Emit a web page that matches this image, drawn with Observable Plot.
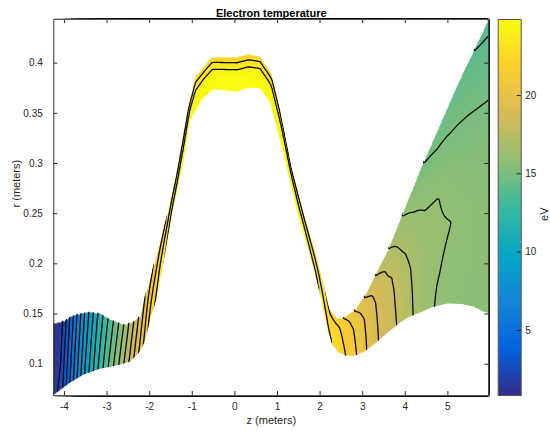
<!DOCTYPE html>
<html><head><meta charset="utf-8">
<script src="https://cdn.jsdelivr.net/npm/d3@7"></script>
<script src="https://cdn.jsdelivr.net/npm/@observablehq/plot@0.6"></script>
<style>
body{margin:0;background:#fff}
#chart{position:relative;width:550px;height:432px}
#chart svg{position:absolute;left:0;top:0}
</style>
</head><body><div id="chart"></div>
<script>
// ---- boundary of the flux tube (z in meters, r in meters) ----
const topZ = [-4.25,-4.0,-3.85,-3.7,-3.43,-3.16,-2.92,-2.61,-2.38,-2.22,-2.13,-2.01,-1.89,-1.59,-1.36,-1.09,-1.0,-0.93,-0.77,-0.54,0.05,0.32,0.59,0.87,0.905,1.06,1.34,1.65,1.88,2.08,2.23,2.4,2.55,2.82,3.05,3.29,3.6,3.91,4.38,5.24,5.96];
const topR = [0.1404,0.143,0.147,0.1494,0.1517,0.1504,0.1444,0.1394,0.1417,0.1477,0.164,0.181,0.2,0.247,0.293,0.358,0.373,0.386,0.394,0.406,0.406,0.4087,0.4067,0.389,0.383,0.356,0.296,0.247,0.214,0.181,0.154,0.146,0.146,0.154,0.168,0.1875,0.214,0.247,0.296,0.3795,0.4435];
const botZ = [-4.25,-4.05,-3.86,-3.55,-3.16,-2.77,-2.45,-2.22,-2.1,-1.95,-1.83,-1.67,-1.46,-1.2,-1.05,-0.97,-0.74,-0.5,0.05,0.32,0.59,0.79,0.83,1.14,1.22,1.49,1.72,1.96,2.19,2.31,2.45,2.62,2.82,3.05,3.29,3.6,3.87,4.07,4.42,4.62,5.0,5.32,5.6,5.83,5.96];
const botR = [0.0688,0.075,0.081,0.089,0.095,0.0982,0.102,0.112,0.122,0.148,0.164,0.2,0.25,0.3,0.34,0.348,0.3645,0.3735,0.371,0.375,0.3745,0.363,0.36,0.31,0.295,0.247,0.214,0.178,0.131,0.118,0.111,0.108,0.108,0.112,0.1195,0.131,0.1404,0.146,0.152,0.156,0.16,0.1594,0.157,0.152,0.1505];

// ---- electron temperature (eV) at z stations, across the tube (fraction 0 = inner edge, 1 = outer edge) ----
const tempZ = [-4.25,-4.1,-4.0,-3.75,-3.5,-3.25,-3.0,-2.75,-2.5,-2.25,-2.0,-1.75,-1.5,-1.2,-0.75,0,0.75,1.2,1.6,1.9,2.1,2.3,2.45,2.6,2.8,3.0,3.2,3.45,3.7,3.95,4.2,4.45,4.75,5.05,5.35,5.65,5.96];
const tempF0   = [1.6,2.3,3.5,6.5,9.3,11.7,13.8,15.8,17.9,20.1,22.4,23.8,24.4,24.7,24.8,24.85,24.8,24.7,24.6,24.2,23.6,22.9,22.5,22.0,21.25,20.4,19.55,18.75,18.2,17.7,16.95,16.35,15.9,15.75,15.65,15.6,15.55];
const tempF20  = [1.5,2.1,3.3,6.3,9.1,11.5,13.6,15.6,17.7,19.9,22.1,23.5,24.2,24.6,24.75,24.8,24.75,24.6,24.4,24.0,23.3,22.7,22.4,21.9,21.15,20.35,19.5,18.7,18.15,17.6,16.9,16.3,16.05,15.85,15.7,15.65,15.6];
const tempF40  = [1.4,1.9,3.1,6.1,8.9,11.3,13.4,15.4,17.5,19.7,21.8,23.1,23.9,24.4,24.6,24.65,24.6,24.4,24.1,23.6,23.0,22.5,22.3,21.75,21.05,20.25,19.45,18.6,18.1,17.45,16.8,16.25,16.15,16.02,15.75,15.65,15.6];
const tempF60  = [1.3,1.7,2.9,5.9,8.7,11.1,13.2,15.2,17.3,19.5,21.5,22.7,23.5,24.0,24.1,24.2,24.1,24.0,23.6,23.1,22.6,22.3,22.15,21.6,20.95,20.15,19.35,18.5,17.95,17.1,16.5,16.15,16.05,15.7,15.5,15.4,15.35];
const tempF80  = [1.2,1.5,2.7,5.7,8.5,10.9,13.0,15.0,17.1,19.3,21.1,22.2,23.0,23.2,23.2,23.2,23.2,23.2,22.9,22.6,22.3,22.05,21.95,21.4,20.6,19.75,19.05,18.3,17.4,16.5,16.0,15.7,15.4,15.15,15.0,14.9,14.8];
const tempF100 = [1.1,1.3,2.5,5.5,8.3,10.7,12.8,14.8,16.9,19.1,20.7,21.6,22.3,22.3,22.2,22.2,22.2,22.3,22.2,22.1,22.05,21.6,21.3,20.8,20.0,19.1,18.3,17.5,16.7,15.9,15.4,14.95,14.6,14.5,14.3,13.95,13.7];
const fractions = [0,0.2,0.4,0.6,0.8,1];

// ---- contour levels, ticks, labels ----
const levels = [1,2,3,4,5,6,7,8,9,10,11,12,13,14,15,16,17,18,19,20,21,22,23,24];
const xTicks = [-4,-3,-2,-1,0,1,2,3,4,5];
const yTicks = [0.1,0.15,0.2,0.25,0.3,0.35,0.4];
const cTicks = [5,10,15,20];
const xDomain = [-4.25, 5.96];
const yDomain = [0.0688, 0.4435];
const cDomain = [0.85, 24.85];
const titleText = "Electron temperature";
const xLabel = "z (meters)";
const yLabel = "r (meters)";
const cLabel = "eV";

// parula colormap
const parula = ["#352a87","#0363e1","#1485d4","#06a7c6","#38b99e","#92bf73","#d9ba56","#fcce2e","#f9fb0e"];
const parulaInterp = d3.piecewise(d3.interpolateRgb, parula);

function lerp1(xs, ys, x) {
  if (x <= xs[0]) return ys[0];
  for (let i = 1; i < xs.length; i++) {
    if (x <= xs[i]) {
      const t = (x - xs[i-1]) / (xs[i] - xs[i-1]);
      return ys[i-1] + t * (ys[i] - ys[i-1]);
    }
  }
  return ys[ys.length - 1];
}
const tempCols = [tempF0, tempF20, tempF40, tempF60, tempF80, tempF100];
function temperature(z, r, clamp) {
  const b = lerp1(botZ, botR, z), t = lerp1(topZ, topR, z);
  let s = (r - b) / (t - b);
  if (!(s >= 0 && s <= 1)) {
    if (!clamp) return NaN;
    s = Math.max(0, Math.min(1, s));
  }
  const col = tempCols.map(c => lerp1(tempZ, c, z));
  return lerp1(fractions, col, s);
}

const axisColor = "#262626";
const frameColor = "#555555";
const font = "'Liberation Sans', Arial, Helvetica, sans-serif";
const W = 550, H = 432, mL = 53.3, mR = 61.7, mT = 19, mB = 37;
const fw = W - mL - mR, fh = H - mT - mB;

const idxTop = topZ.map((d, i) => i);
const idxBot = botZ.map((d, i) => i);

const main = Plot.plot({
  width: W, height: H,
  marginLeft: mL, marginRight: mR, marginTop: mT, marginBottom: mB,
  style: {fontFamily: font, fontSize: "10px", color: axisColor, background: "white"},
  x: {domain: xDomain},
  y: {domain: yDomain},
  color: {type: "linear", domain: cDomain, interpolate: parulaInterp, clamp: true},
  marks: [
    Plot.raster({fill: (z, r) => temperature(z, r, false), x1: xDomain[0], x2: xDomain[1], y1: yDomain[0], y2: yDomain[1], pixelSize: 1}),
    Plot.contour({value: (z, r) => temperature(z, r, true), x1: xDomain[0], x2: xDomain[1], y1: yDomain[0], y2: yDomain[1], thresholds: levels, fill: "none", stroke: "#0a0a0a", strokeWidth: 1.3, pixelSize: 1.5}),
    Plot.areaY(idxTop, {x: i => topZ[i], y1: i => topR[i], y2: () => yDomain[1], fill: "white", clip: true}),
    Plot.areaY(idxBot, {x: i => botZ[i], y1: () => yDomain[0], y2: i => botR[i], fill: "white", clip: true}),
    Plot.tickX(xTicks, {x: d => d, insetTop: fh - 4, stroke: axisColor}),
    Plot.tickX(xTicks, {x: d => d, insetBottom: fh - 4, stroke: axisColor}),
    Plot.tickY(yTicks, {y: d => d, insetRight: fw - 4, stroke: axisColor}),
    Plot.tickY(yTicks, {y: d => d, insetLeft: fw - 4, stroke: axisColor}),
    Plot.axisX({ticks: xTicks, tickSize: 0, tickPadding: 7, tickFormat: d => String(d), label: null}),
    Plot.axisY({ticks: yTicks, tickSize: 0, tickPadding: 11, tickFormat: d => String(d), label: null}),
    Plot.frame({stroke: frameColor}),
    Plot.text([titleText], {frameAnchor: "top", dy: -10, fontWeight: "bold", fontSize: 11, fill: "#000"}),
    Plot.text([xLabel], {frameAnchor: "bottom", dy: 28, fontSize: 11, fill: axisColor}),
    Plot.text([yLabel], {frameAnchor: "left", dx: -37, rotate: -90, fontSize: 11, fill: axisColor})
  ]
});

const cbL = 497.7, cbR = 520.7;
const nColors = 64;
const cStep = (cDomain[1] - cDomain[0]) / nColors;
const bar = Plot.plot({
  width: W, height: H,
  marginLeft: cbL, marginRight: W - cbR, marginTop: mT, marginBottom: mB,
  style: {fontFamily: font, fontSize: "10px", color: axisColor, background: "none"},
  x: {domain: [0, 1], axis: null},
  y: {domain: cDomain, axis: null},
  color: {type: "linear", domain: cDomain, interpolate: parulaInterp, clamp: true},
  marks: [
    Plot.raster({fill: (x, c) => cDomain[0] + (Math.min(nColors - 1, Math.floor((c - cDomain[0]) / cStep)) + 0.5) * cStep, x1: 0, x2: 1, y1: cDomain[0], y2: cDomain[1], pixelSize: 1}),
    Plot.tickY(cTicks, {y: d => d, insetLeft: (cbR - cbL) - 4, stroke: axisColor}),
    Plot.axisY({anchor: "right", ticks: cTicks, tickSize: 0, tickPadding: 4, tickFormat: d => String(d), label: null}),
    Plot.frame({stroke: frameColor}),
    Plot.text([cLabel], {frameAnchor: "right", dx: 23, rotate: -90, fontSize: 11, fill: axisColor})
  ]
});

const host = document.getElementById("chart");
host.appendChild(main);
host.appendChild(bar);
</script>
</body></html>
